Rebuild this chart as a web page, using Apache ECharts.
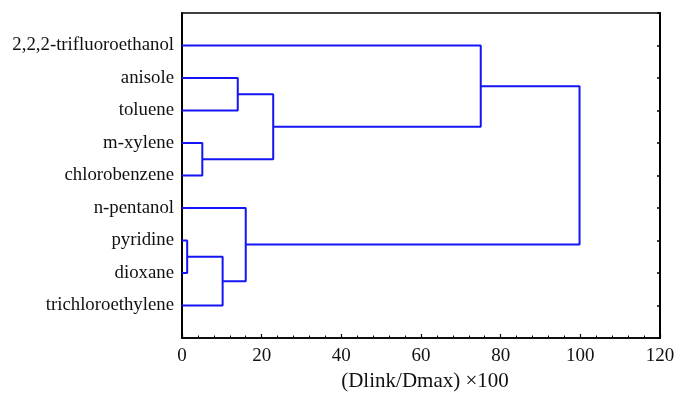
<!DOCTYPE html>
<html>
<head>
<meta charset="utf-8">
<script src="https://cdn.jsdelivr.net/npm/echarts@6/dist/echarts.min.js"></script>
<style>html,body{margin:0;padding:0;background:#fff;overflow:hidden;}#c{width:678px;height:393px;}</style>
</head>
<body>
<div id="c"></div>
<script>
// Leaves, top to bottom
const leaves = ['2,2,2-trifluoroethanol','anisole','toluene','m-xylene','chlorobenzene','n-pentanol','pyridine','dioxane','trichloroethylene'];
// Merges: node ids < 9 are leaves, merge k creates node 9+k
const mergeLeft   = [1, 3, 9, 0, 6, 13, 5, 12];
const mergeRight  = [2, 4, 10, 11, 7, 8, 14, 15];
const mergeHeight = [14.0, 5.1, 22.9, 75.0, 1.3, 10.2, 16.0, 99.8];
const xTicks = [0, 20, 40, 60, 80, 100, 120];

const nodeY = leaves.map((_, i) => i + 1);
const nodeH = leaves.map(() => 0);
const series = [];
for (let k = 0; k < mergeHeight.length; k++) {
  const a = mergeLeft[k], b = mergeRight[k], h = mergeHeight[k];
  series.push({
    type: 'line', symbol: 'none', silent: true, animation: false,
    lineStyle: { color: '#1414f5', width: 2 },
    data: [[nodeH[a], nodeY[a]], [h, nodeY[a]], [h, nodeY[b]], [nodeH[b], nodeY[b]]]
  });
  nodeY.push((nodeY[a] + nodeY[b]) / 2);
  nodeH.push(h);
}

const font = 'Liberation Serif';
const chart = echarts.init(document.getElementById('c'));
chart.setOption({
  animation: false,
  grid: { left: 182, width: 478, top: 13, height: 325, outerBoundsMode: 'none', containLabel: false,
          show: true, borderColor: '#000', borderWidth: 1.5, backgroundColor: 'transparent' },
  xAxis: [{
    type: 'value', position: 'bottom', min: xTicks[0], max: xTicks[xTicks.length - 1], interval: 20,
    name: '(Dlink/Dmax) ×100', nameLocation: 'middle', nameGap: 32,
    nameTextStyle: { fontFamily: font, fontSize: 21, color: '#111', padding: [0, 0, 0, 8] },
    axisLine: { show: true, onZero: false, lineStyle: { color: '#000', width: 1.5 } },
    axisTick: { show: true, inside: true, length: 4, lineStyle: { color: '#000', width: 1.2 } },
    minorTick: { show: true, splitNumber: 5, length: 2.5, lineStyle: { color: '#000', width: 1 } },
    axisLabel: { fontFamily: font, fontSize: 19, color: '#111', margin: 9 },
    splitLine: { show: false }
  }],
  yAxis: [{
    type: 'value', position: 'left', min: 0, max: leaves.length + 1, interval: 1, inverse: true,
    axisLine: { show: true, onZero: false, lineStyle: { color: '#000', width: 2 } },
    axisTick: { show: false },
    axisLabel: {
      fontFamily: font, fontSize: 18.8, color: '#111', margin: 8,
      formatter: v => (v >= 1 && v <= leaves.length) ? leaves[v - 1] : ''
    },
    splitLine: { show: false }
  }, {
    type: 'value', position: 'right', min: 0, max: leaves.length + 1, interval: 1, inverse: true,
    axisLine: { show: true, onZero: false, lineStyle: { color: '#000', width: 2 } },
    axisTick: { show: true, inside: true, length: 3, lineStyle: { color: '#000', width: 1.5 } },
    axisLabel: { show: false }, splitLine: { show: false }
  }],
  series: series
});
</script>
</body>
</html>
